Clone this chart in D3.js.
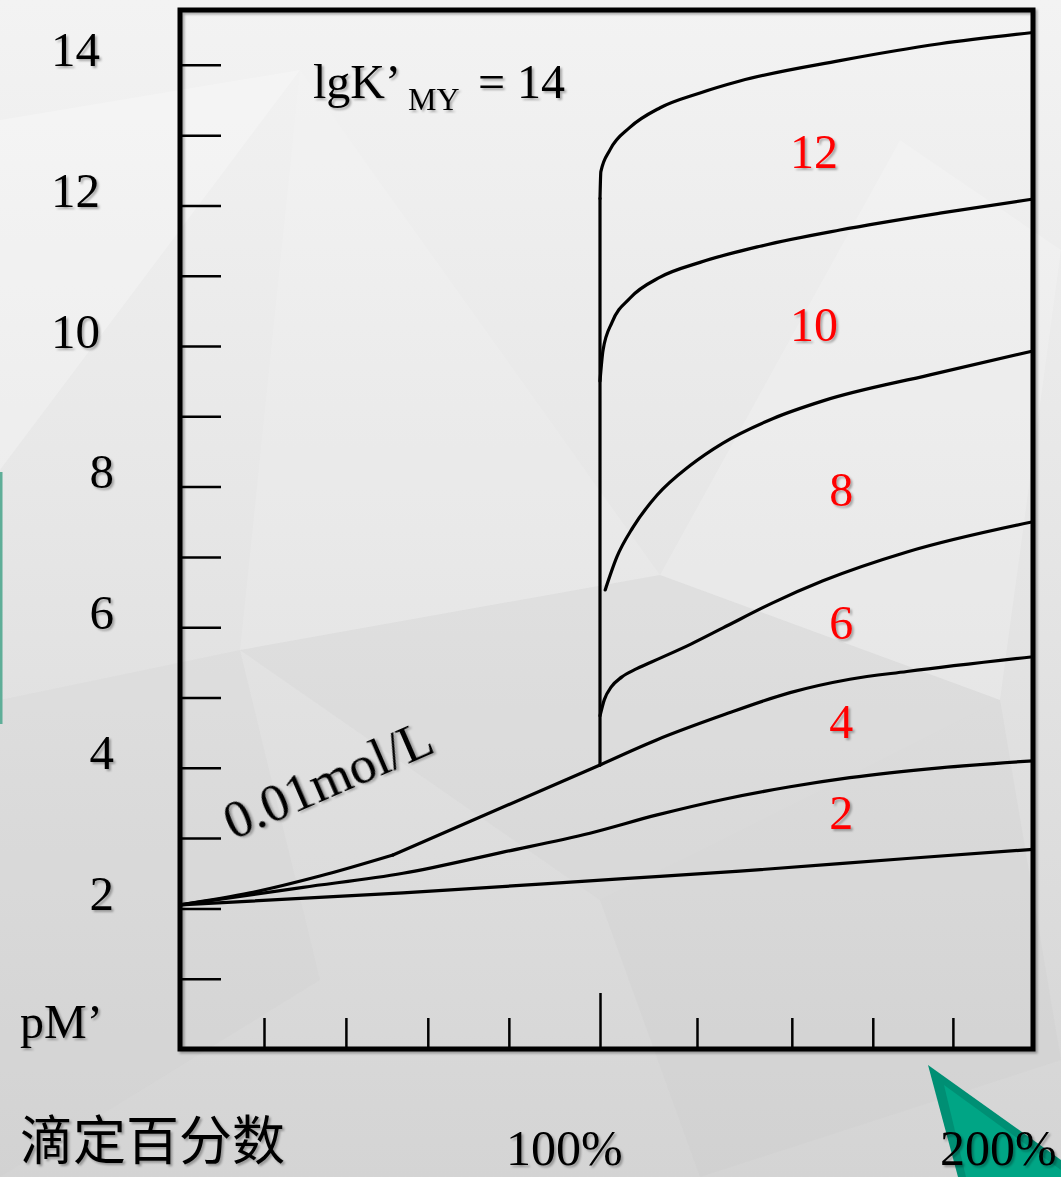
<!DOCTYPE html>
<html>
<head>
  <meta charset="utf-8">
  <script src="https://d3js.org/d3.v7.min.js"></script>
  <style>
    html, body { margin: 0; padding: 0; overflow: hidden; }
    text { font-family: "Liberation Serif", "Times New Roman", serif; }
    .cjk { font-family: "Noto Sans CJK SC", sans-serif; }
  </style>
</head>
<body>
<script>
// lgK'MY of each curve
var lgKValues = [2, 4, 6, 8, 10, 12, 14];

// axis ticks
var yTickValues = d3.range(1, 15);
var yLabelValues = [2, 4, 6, 8, 10, 12, 14];
var xTickValues = [20, 39.5, 59, 78.3, 100, 122.4, 144.3, 163, 181.5];
var xLabelValues = [100, 200];

// [titration %, pM']
// shared part of the curves lgK 6..14 before the equivalence point (kink at 50.7%)
var beforeEq = [[0, 2.05], [16.7, 2.22], [33.3, 2.46], [50.7, 2.76], [100, 4.04]];
var curve2 = [[0, 2.05], [53.1, 2.22], [104.6, 2.42], [132.3, 2.53], [170.9, 2.71], [200, 2.84]];
var curve4 = [[0, 2.05], [29.3, 2.30], [53.1, 2.50], [76.9, 2.80], [97.6, 3.07], [113.2, 3.33],
              [128.4, 3.55], [143.9, 3.73], [157.7, 3.86], [178.5, 4.00], [200, 4.10]];
var curve6After = [[100, 4.04], [113.2, 4.40], [128.4, 4.75], [143.9, 5.07], [157.7, 5.26],
                   [170.9, 5.37], [200, 5.58]];
var curve8After = [[100, 4.74], [101.0, 4.97], [102.6, 5.15], [105.0, 5.29], [108.5, 5.41], [113.9, 5.56],
                   [121.0, 5.76], [128.4, 5.99], [140.0, 6.35], [151.5, 6.66], [170.9, 7.07], [200, 7.50]];
var curve10After = [[101.2, 6.53], [103.9, 7.00], [107.6, 7.42], [113.2, 7.88], [120.8, 8.30], [128.4, 8.62],
                    [140.0, 8.97], [151.5, 9.22], [176.2, 9.59], [200, 9.93]];
var curve12After = [[100, 9.50], [100.7, 9.94], [102.8, 10.34], [106.9, 10.68], [113.9, 10.98], [123.1, 11.19],
                    [137.0, 11.42], [155.4, 11.65], [178.5, 11.89], [200, 12.09]];
var curve14After = [[100, 12.10], [100.2, 12.48], [102.3, 12.79], [106.9, 13.11], [113.9, 13.39], [123.1, 13.60],
                    [132.3, 13.77], [155.4, 14.06], [178.5, 14.30], [200, 14.46]];

// where the red curve labels sit, in data units
var curveLabelPos = [[155.7, 3.36], [155.7, 4.65], [155.7, 6.06], [155.7, 7.95], [149.4, 10.30], [149.4, 12.76]];

var width = 1061, height = 1177;

var svg = d3.select("body").append("svg")
    .attr("width", width)
    .attr("height", height);

var defs = svg.append("defs");
var grad = defs.append("linearGradient").attr("id", "bg").attr("x1", 0).attr("y1", 0).attr("x2", 0).attr("y2", 1);
grad.append("stop").attr("offset", "0%").attr("stop-color", "#f3f3f3");
grad.append("stop").attr("offset", "45%").attr("stop-color", "#e6e6e6");
grad.append("stop").attr("offset", "100%").attr("stop-color", "#d4d4d4");

var shadow = defs.append("filter").attr("id", "shadow")
    .attr("x", "-10%").attr("y", "-10%").attr("width", "130%").attr("height", "130%");
shadow.append("feDropShadow")
    .attr("dx", 2).attr("dy", 2).attr("stdDeviation", 1.2)
    .attr("flood-color", "#000").attr("flood-opacity", 0.3);

// background with a few faint low-poly facets
svg.append("rect").attr("width", width).attr("height", height).attr("fill", "url(#bg)");
var facets = [
  {p: [[0, 120], [300, 70], [0, 470]], c: "#ffffff", o: 0.25},
  {p: [[240, 650], [660, 575], [1000, 700], [600, 900]], c: "#d0d0d0", o: 0.25},
  {p: [[0, 700], [240, 650], [320, 980], [0, 1177]], c: "#cfcfcf", o: 0.2},
  {p: [[660, 575], [900, 140], [1061, 250], [1000, 700]], c: "#ffffff", o: 0.18},
  {p: [[300, 70], [660, 575], [240, 650]], c: "#ffffff", o: 0.12},
  {p: [[600, 900], [1000, 700], [1061, 1060], [700, 1177]], c: "#c8c8c8", o: 0.2}
];
svg.selectAll("polygon.facet").data(facets).enter().append("polygon")
    .attr("class", "facet")
    .attr("points", function (d) { return d.p.join(" "); })
    .attr("fill", function (d) { return d.c; })
    .attr("fill-opacity", function (d) { return d.o; });

// teal decorations
svg.append("rect").attr("x", 0).attr("y", 472).attr("width", 2.5).attr("height", 252).attr("fill", "#5fae98");
svg.append("polygon").attr("points", "928,1065 1061,1160 1061,1177 958,1177").attr("fill", "#008f74");
svg.append("polygon").attr("points", "944,1085 1061,1170 1061,1177 966,1177").attr("fill", "#00a585");

// scales
var x = d3.scaleLinear().domain([0, 100, 200]).range([180, 600, 1033]);
var y = d3.scaleLinear().domain([0, 14.78]).range([1049, 10]);

// y ticks inside the frame
var yAxis = svg.append("g")
    .attr("transform", "translate(" + x(0) + ",0)")
    .call(d3.axisRight(y).tickValues(yTickValues).tickSize(41).tickFormat(""));
yAxis.select(".domain").remove();
yAxis.selectAll("line").attr("stroke", "#000").attr("stroke-width", 2.5);

// x ticks inside the frame, the 100% one longer
var xAxis = svg.append("g")
    .attr("transform", "translate(0," + y(0) + ")")
    .call(d3.axisTop(x).tickValues(xTickValues).tickSize(31).tickFormat(""));
xAxis.select(".domain").remove();
xAxis.selectAll("line").attr("stroke", "#000").attr("stroke-width", 2.5)
    .attr("y2", function (d) { return d === 100 ? -56 : -31; });

// frame
svg.append("rect")
    .attr("x", x(0)).attr("y", y(14.78))
    .attr("width", x(200) - x(0)).attr("height", y(0) - y(14.78))
    .attr("fill", "none").attr("stroke", "#000").attr("stroke-width", 5)
    .attr("filter", "url(#shadow)");

// curves
var smooth = d3.line().x(function (d) { return x(d[0]); }).y(function (d) { return y(d[1]); })
    .curve(d3.curveMonotoneX);
var straight = d3.line().x(function (d) { return x(d[0]); }).y(function (d) { return y(d[1]); });

var curves = svg.append("g")
    .attr("fill", "none").attr("stroke", "#000").attr("stroke-width", 3.2)
    .attr("stroke-linecap", "round").attr("stroke-linejoin", "round");

curves.append("path").attr("d", smooth(curve2));
curves.append("path").attr("d", smooth(curve4));
curves.append("path").attr("d", smooth(beforeEq.filter(function (d) { return d[0] <= 50.7; })));
curves.append("path").attr("d", straight(beforeEq.filter(function (d) { return d[0] >= 50.7; })));
// vertical jump at the equivalence point
curves.append("path").attr("d", straight([beforeEq[beforeEq.length - 1], curve14After[0]]));
[curve6After, curve8After, curve10After, curve12After, curve14After].forEach(function (c) {
  curves.append("path").attr("d", smooth(c));
});

// red curve labels
svg.selectAll("text.curve-label")
    .data(lgKValues.slice(0, 6))
    .enter().append("text")
    .attr("class", "curve-label")
    .attr("x", function (d, i) { return x(curveLabelPos[i][0]); })
    .attr("y", function (d, i) { return y(curveLabelPos[i][1]); })
    .attr("dy", "0.34em")
    .attr("text-anchor", "middle")
    .attr("fill", "#ff0000")
    .attr("font-size", 48)
    .attr("filter", "url(#shadow)")
    .text(function (d) { return d; });

// y labels, left of the frame, slightly above their ticks
svg.selectAll("text.y-label")
    .data(yLabelValues)
    .enter().append("text")
    .attr("class", "y-label")
    .attr("x", function (d) { return d >= 10 ? 100 : 114; })
    .attr("y", function (d) { return y(d) - 15; })
    .attr("dy", "0.34em")
    .attr("text-anchor", "end")
    .attr("font-size", 49)
    .attr("fill", "#000")
    .attr("filter", "url(#shadow)")
    .text(function (d) { return d; });

// lgK'MY = 14 heading
var head = svg.append("text")
    .attr("font-size", 48).attr("fill", "#000").attr("filter", "url(#shadow)");
head.append("tspan").attr("x", 313).attr("y", 98).text("lgK\u2019");
head.append("tspan").attr("x", 408).attr("y", 110).attr("font-size", 32).text("MY");
head.append("tspan").attr("x", 478).attr("y", 98).text("= " + lgKValues[6]);

// concentration note
svg.append("text")
    .attr("transform", "translate(233,840) rotate(-23.5)")
    .attr("font-size", 53).attr("fill", "#000").attr("filter", "url(#shadow)")
    .text("0.01mol/L");

// axis titles
svg.append("text")
    .attr("x", 20).attr("y", 1038)
    .attr("font-size", 48).attr("fill", "#000").attr("filter", "url(#shadow)")
    .text("pM\u2019");

svg.append("text")
    .attr("class", "cjk")
    .attr("x", 20).attr("y", 1160)
    .attr("font-size", 53).attr("fill", "#000").attr("filter", "url(#shadow)")
    .text("滴定百分数");

svg.selectAll("text.x-label")
    .data(xLabelValues)
    .enter().append("text")
    .attr("class", "x-label")
    .attr("x", function (d) { return d === 100 ? 506 : 940; })
    .attr("y", 1165)
    .attr("font-size", 50).attr("fill", "#000").attr("filter", "url(#shadow)")
    .text(function (d) { return d + "%"; });
</script>
</body>
</html>
